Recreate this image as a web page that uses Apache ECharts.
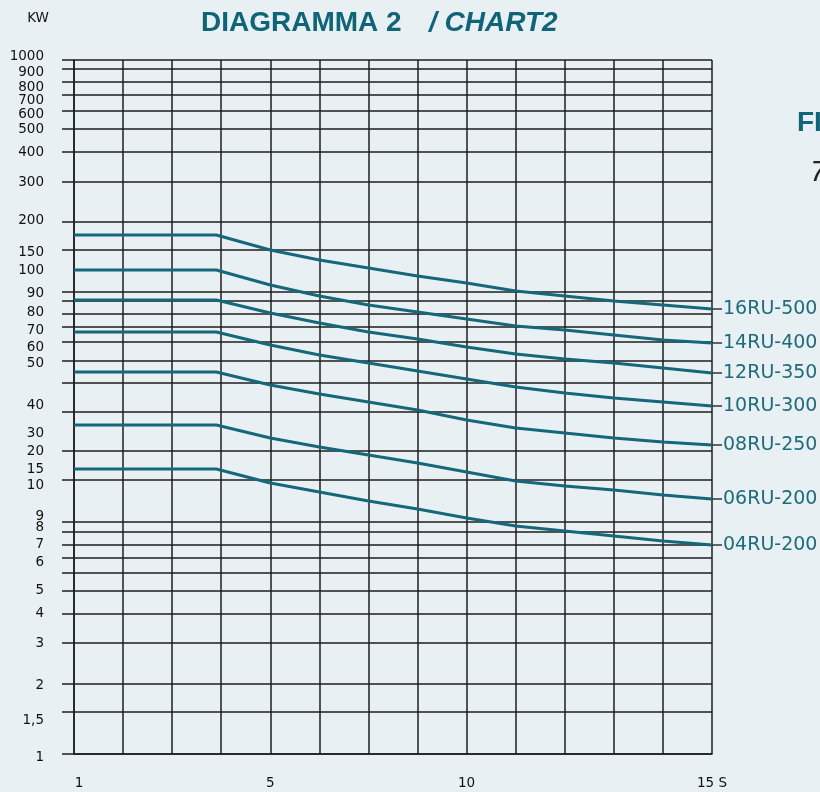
<!DOCTYPE html>
<html><head><meta charset="utf-8">
<script src="https://cdn.jsdelivr.net/npm/echarts@6/dist/echarts.min.js"></script>
<style>html,body{margin:0;padding:0;background:#e8f0f3;}#c{width:820px;height:792px;}</style>
</head><body><div id="c"></div>
<script>
// x positions (grid columns 0..13), labels shown at some columns
const xPositions = [0, 2.9, 4, 5, 6, 7, 8, 9, 10, 11, 12, 13];
const xTickValues = [0, 4, 8, 13];
const xTickLabels = ['1', '5', '10', '15 S'];

// y axis: positions on the printed (irregular) scale, bottom line = 0
const yLabelValues = [694, 682, 667, 654, 640, 625, 602, 572, 534, 502, 484, 461, 442, 424, 407, 391, 349, 321, 303, 285, 269, 238, 227, 210, 192, 164, 141, 111, 69, 34, 0];
const yLabelTexts = ['1000', '900', '800', '700', '600', '500', '400', '300', '200', '150', '100', '90', '80', '70', '60', '50', '40', '30', '20', '15', '10', '9', '8', '7', '6', '5', '4', '3', '2', '1,5', '1'];
const yGridValues = [694, 685, 672, 659, 643, 625, 602, 572, 532, 504, 462, 453, 440, 427, 412, 393, 371, 342, 303, 274, 232, 222, 209, 196, 181, 163, 140, 111, 70, 42, 0];

const seriesNames = ['16RU-500', '14RU-400', '12RU-350', '10RU-300', '08RU-250', '06RU-200', '04RU-200'];
const v16RU500 = [519, 519, 504, 494, 486, 478, 471, 463, 458, 453, 449, 445];
const v14RU400 = [484, 484, 469, 458, 449, 442, 435, 428, 424, 419, 414, 411];
const v12RU350 = [454, 454, 441, 431, 422, 415, 407, 400, 395, 391, 386, 381];
const v10RU300 = [422, 422, 409, 399, 391, 383, 375, 367, 361, 356, 352, 348];
const v08RU250 = [382, 382, 369, 360, 352, 344, 334, 326, 321, 316, 312, 309];
const v06RU200 = [329, 329, 316, 307, 299, 291, 282, 273, 268, 264, 259, 255];
const v04RU200 = [285, 285, 271, 262, 253, 245, 236, 228, 223, 218, 213, 209];
const seriesValues = [v16RU500, v14RU400, v12RU350, v10RU300, v08RU250, v06RU200, v04RU200];

const TEAL = '#15677a';
const GRIDC = '#1e1e1e';
const chart = echarts.init(document.getElementById('c'));

const series = seriesNames.map((name, i) => ({
  name: name,
  type: 'line',
  symbol: 'none',
  data: xPositions.map((x, j) => [x, seriesValues[i][j]]),
  lineStyle: { color: TEAL, width: 3 },
  itemStyle: { color: TEAL },
  z: 5,
  endLabel: {
    show: true,
    distance: 0,
    formatter: '{d|}{t|' + name + '}',
    rich: {
      d: { width: 10, height: 1.5, backgroundColor: '#333' },
      t: { fontSize: 19, fontFamily: 'DejaVu Sans', color: '#1d6b7b', padding: [0, 0, 0, 1] }
    }
  }
}));

chart.setOption({
  backgroundColor: '#e8f0f3',
  animation: false,
  grid: { left: 74, right: 108, top: 60, bottom: 38, containLabel: false },
  xAxis: {
    type: 'value', min: 0, max: 13, interval: 1,
    axisLine: { show: true, lineStyle: { color: GRIDC, width: 1.5 } },
    axisTick: { show: false },
    splitLine: { show: true, lineStyle: { color: GRIDC, width: 1.5 } },
    axisLabel: {
      customValues: xTickValues,
      margin: 22,
      fontFamily: 'DejaVu Sans', fontSize: 13.5, color: '#111',
      formatter: v => {
        const t = xTickLabels[xTickValues.indexOf(v)];
        return v === 0 ? '{p|' + t + '}' : t;
      },
      rich: { p: { padding: [0, 0, 0, 10], fontFamily: 'DejaVu Sans', fontSize: 13.5, color: '#111' } }
    }
  },
  yAxis: {
    type: 'value', min: 0, max: 694,
    axisLine: { show: true, lineStyle: { color: GRIDC, width: 1.5 } },
    axisTick: { show: true, inside: false, length: 12, customValues: yGridValues, lineStyle: { color: GRIDC, width: 1.5 } },
    splitLine: { show: true, lineStyle: { color: GRIDC, width: 1.5 } },
    axisLabel: {
      customValues: yLabelValues,
      margin: 30,
      fontFamily: 'DejaVu Sans', fontSize: 13.5, color: '#111',
      formatter: v => {
        const t = yLabelTexts[yLabelValues.indexOf(v)];
        if (v === 694) return '{up|' + t + '}';
        if (v === 0) return '{dn|' + t + '}';
        return t;
      },
      rich: {
        up: { padding: [0, 0, 8, 0], fontFamily: 'DejaVu Sans', fontSize: 13.5, color: '#111' },
        dn: { padding: [6, 0, 0, 0], fontFamily: 'DejaVu Sans', fontSize: 13.5, color: '#111' }
      }
    }
  },
  graphic: [
    { type: 'text', x: 201, y: 23, style: { text: 'DIAGRAMMA 2', font: 'bold 28px "Liberation Sans"', fill: '#0f6577', textVerticalAlign: 'middle' } },
    { type: 'text', x: 429, y: 23, style: { text: '/ CHART2', font: 'italic bold 28px "Liberation Sans"', fill: '#0f6577', textVerticalAlign: 'middle' } },
    { type: 'text', x: 38, y: 18, style: { text: 'KW', font: '13.5px "DejaVu Sans"', fill: '#111', textAlign: 'center', textVerticalAlign: 'middle' } },
    { type: 'text', x: 797, y: 123, style: { text: 'FIG', font: 'bold 28px "Liberation Sans"', fill: '#0f6577', textVerticalAlign: 'middle' } },
    { type: 'text', x: 810, y: 173, style: { text: '7', font: 'italic 30px "Liberation Sans"', fill: '#222', textVerticalAlign: 'middle' } }
  ],
  series: series
});
</script>
</body></html>
